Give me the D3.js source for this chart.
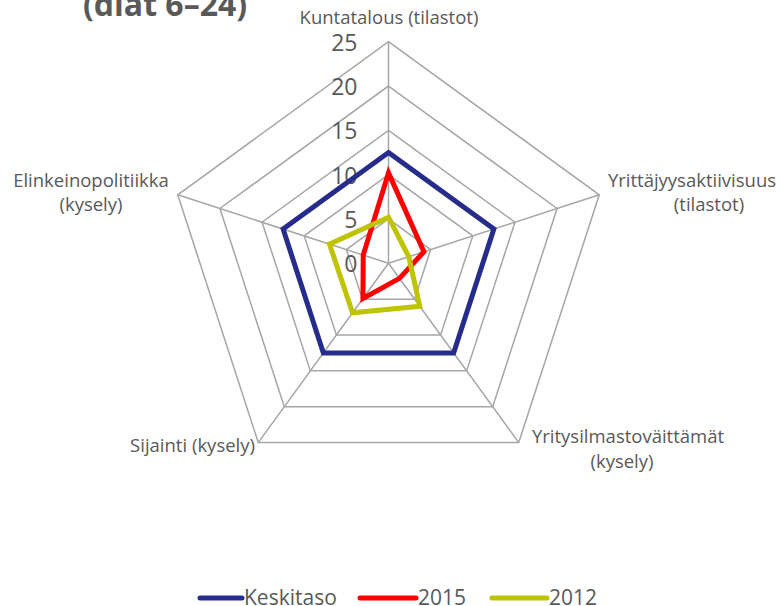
<!DOCTYPE html>
<html>
<head>
<meta charset="utf-8">
<script src="https://cdn.jsdelivr.net/npm/d3@7"></script>
<style>
  body { margin: 0; background: #fff; }
  text { font-family: "Open Sans", "Liberation Sans", sans-serif; fill: #595959; }
</style>
</head>
<body>
<div id="chart"></div>
<script>
// data
var axes = ["Kuntatalous (tilastot)", "Yrittäjyysaktiivisuus (tilastot)", "Yritysilmastoväittämät (kysely)", "Sijainti (kysely)", "Elinkeinopolitiikka (kysely)"];
var seriesNames = ["Keskitaso", "2015", "2012"];
var keskitaso = [12.5, 12.5, 12.5, 12.5, 12.5];
var v2015 = [10.2, 4.2, 2.1, 4.9, 3.0];
var v2012 = [5.2, 2.4, 6.0, 6.9, 7.0];
var ticks = [0, 5, 10, 15, 20, 25];

var colors = ["#262C8C", "#FF0000", "#BEC400"];
var allSeries = [keskitaso, v2015, v2012];

var svgWidth = 780, svgHeight = 606;
var cx = 388.5, cy = 263.3;

var svg = d3.select("#chart").append("svg")
  .attr("width", svgWidth)
  .attr("height", svgHeight);

var r = d3.scaleLinear().domain([0, 25]).range([0, 221.6]);
var angle = d3.scaleLinear().domain([0, axes.length]).range([0, 2 * Math.PI]);

function pt(i, v) {
  var a = angle(i);
  return [cx + r(v) * Math.sin(a), cy - r(v) * Math.cos(a)];
}

var g = svg.append("g");

// grid rings
ticks.slice(1).forEach(function(t) {
  g.append("path")
    .attr("d", d3.line()(axes.map(function(d, i) { return pt(i, t); })) + "Z")
    .attr("fill", "none")
    .attr("stroke", "#A6A6A6")
    .attr("stroke-width", 1.5);
});

// spokes
axes.forEach(function(d, i) {
  var p = pt(i, 25);
  g.append("line")
    .attr("x1", cx).attr("y1", cy)
    .attr("x2", p[0]).attr("y2", p[1])
    .attr("stroke", "#A6A6A6")
    .attr("stroke-width", 1.5);
});

// tick labels
ticks.forEach(function(t) {
  g.append("text")
    .attr("x", cx - 31)
    .attr("y", cy - r(t) + 9)
    .attr("text-anchor", "end")
    .attr("font-size", "23px")
    .text(t);
});

// series
allSeries.forEach(function(s, k) {
  g.append("path")
    .attr("d", d3.line()(s.map(function(v, i) { return pt(i, v); })) + "Z")
    .attr("fill", "none")
    .attr("stroke", colors[k])
    .attr("stroke-width", 5)
    .attr("stroke-linejoin", "miter");
});

// axis labels
var labelPos = [
  { x: [389], y: [24], anchor: ["middle"], lines: ["Kuntatalous (tilastot)"] },
  { x: [692, 709], y: [187, 211], anchor: ["middle", "middle"], lines: ["Yrittäjyysaktiivisuus", "(tilastot)"] },
  { x: [628, 622], y: [443, 468], anchor: ["middle", "middle"], lines: ["Yritysilmastoväittämät", "(kysely)"] },
  { x: [255], y: [452], anchor: ["end"], lines: ["Sijainti (kysely)"] },
  { x: [91, 91], y: [187, 211], anchor: ["middle", "middle"], lines: ["Elinkeinopolitiikka", "(kysely)"] }
];
labelPos.forEach(function(l) {
  l.lines.forEach(function(line, j) {
    svg.append("text")
      .attr("x", l.x[j])
      .attr("y", l.y[j])
      .attr("text-anchor", l.anchor[j])
      .attr("font-size", "18.5px")
      .text(line);
  });
});

// title (clipped at top)
svg.append("text")
  .attr("x", 165)
  .attr("y", 16)
  .attr("text-anchor", "middle")
  .attr("font-size", "32px")
  .attr("font-weight", "bold")
  .text("(diat 6–24)");

// legend
var legendX = [200, 360, 492];
var lineLen = [42, 56, 55];
seriesNames.forEach(function(name, k) {
  svg.append("line")
    .attr("x1", legendX[k]).attr("y1", 598)
    .attr("x2", legendX[k] + lineLen[k]).attr("y2", 598)
    .attr("stroke", colors[k])
    .attr("stroke-width", 5)
    .attr("stroke-linecap", "round");
  svg.append("text")
    .attr("x", legendX[k] + lineLen[k] + 2)
    .attr("y", 605)
    .attr("font-size", "21px")
    .text(name);
});
</script>
</body>
</html>
